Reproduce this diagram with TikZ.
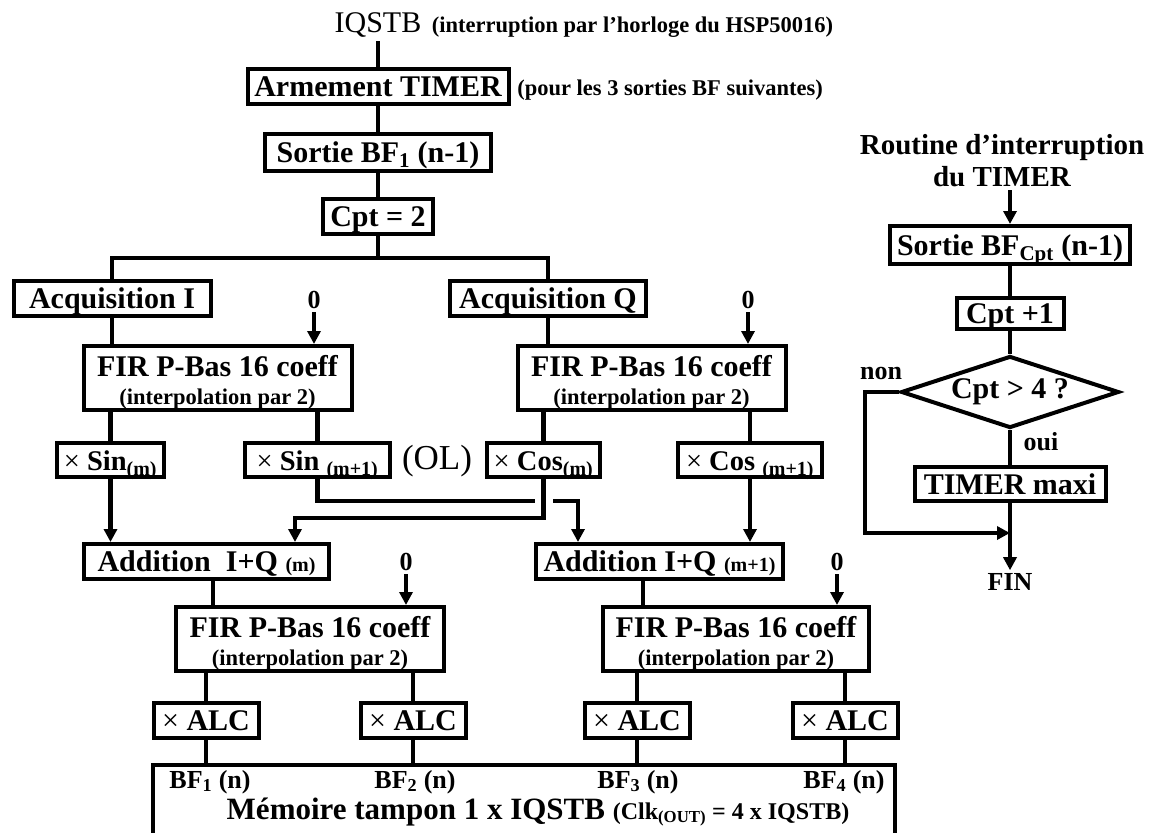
\documentclass[tikz,border=0pt]{standalone}
\usepackage{fontspec}
\setmainfont{Liberation Serif}
\usetikzlibrary{arrows.meta,shapes.geometric}

\newcommand{\firtext}{\rule{0pt}{30pt}FIR P-Bas 16 coeff\\[-4pt]{\fontsize{22.5}{24}\selectfont\bfseries (interpolation par 2)}}
\newcommand{\mult}{{\mdseries ×}}

\begin{document}
\begin{tikzpicture}[x=1pt, y=-1pt, line width=4.5pt, >={Triangle[width=13pt,length=13pt]},
  frame/.style = {draw, line width=4pt, inner sep=0pt, font=\fontsize{30}{32}\selectfont\bfseries},
  box/.style = {frame, text height=20pt, text depth=0pt},
  fir/.style = {frame, align=center, minimum width=268, minimum height=64},
  mul/.style = {box, minimum height=34, font=\fontsize{28.5}{30}\selectfont\bfseries},
  alc/.style = {box, minimum width=105, minimum height=35},
  lbl/.style = {inner sep=1pt, font=\fontsize{26}{28}\selectfont\bfseries},
  note/.style = {inner sep=0pt, font=\fontsize{22.5}{24}\selectfont\bfseries}]

  \useasboundingbox (0,0) rectangle (1153,832);

  % main routine
  \node[anchor=base, inner sep=1pt, font=\fontsize{30}{30}\selectfont] (IQ) at (378,33) {IQSTB};
  \node[note, anchor=base west] (IQ_NOTE) at ([xshift=5]IQ.base east) {(interruption par l’horloge du HSP50016)};

  \node[box, minimum width=261, minimum height=35] (ARM) at (378,86.5) {Armement TIMER};
  \node[note, anchor=west] (ARM_NOTE) at (515,90) {(pour les 3 sorties BF suivantes)};
  \node[box, minimum width=226, minimum height=37] (OUT_1) at (378,152.5) {Sortie BF\textsubscript{1} (n-1)};
  \node[box, minimum width=110, minimum height=35] (CPT_2) at (378,216.5) {Cpt = 2};
  \coordinate (FORK) at (378,258);
  \node[box, minimum width=197, minimum height=35] (ACQ_I) at (112,298.5) {Acquisition I};
  \node[box, minimum width=196, minimum height=35] (ACQ_Q) at (548,298.5) {Acquisition Q};

  \draw (IQ) -- (ARM);
  \draw (ARM) -- (OUT_1);
  \draw (OUT_1) -- (CPT_2);
  \draw (CPT_2) -- (FORK);
  \draw (ACQ_I) |- (FORK) -| (ACQ_Q);

  % first filters
  \node[fir] (FIR_1) at (217.5,378) {\firtext};
  \node[fir] (FIR_2) at (651.5,378) {\firtext};
  \node[lbl] (ZERO_1) at (314,300) {0};
  \node[lbl] (ZERO_2) at (748,300) {0};

  \draw (ACQ_I) -- (ACQ_I |- FIR_1.north);
  \draw (ACQ_Q) -- (ACQ_Q |- FIR_2.north);
  \draw[->] (ZERO_1) -- (ZERO_1 |- FIR_1.north);
  \draw[->] (ZERO_2) -- (ZERO_2 |- FIR_2.north);

  % local oscillator
  \node[mul, minimum width=107] (SIN_0) at (110.5,460) {\mult{} Sin\textsubscript{(m)}};
  \node[mul, minimum width=145] (SIN_1) at (317.5,460) {\mult{} Sin \textsubscript{(m+1)}};
  \node[font=\fontsize{35}{35}\selectfont] (OL) at (437,461) {(OL)};
  \node[mul, minimum width=113] (COS_0) at (543.5,460) {\mult{} Cos\textsubscript{(m)}};
  \node[mul, minimum width=144] (COS_1) at (750,460) {\mult{} Cos \textsubscript{(m+1)}};

  \draw (SIN_0) -- (SIN_0 |- FIR_1.south);
  \draw (SIN_1) -- (SIN_1 |- FIR_1.south);
  \draw (COS_0) -- (COS_0 |- FIR_2.south);
  \draw (COS_1) -- (COS_1 |- FIR_2.south);

  \node[box, minimum width=245, minimum height=35] (ADD_0) at (206.5,561.5) {Addition~ I+Q {\fontsize{20}{20}\selectfont (m)}};
  \node[box, minimum width=247, minimum height=35] (ADD_1) at (659.5,561.5) {Addition I+Q {\fontsize{20}{20}\selectfont (m+1)}};

  \draw[->] (SIN_0) -- (SIN_0 |- ADD_0.north);
  \draw[->] (SIN_1.south) -- ++(0,22) -| ([xshift=-81.5]ADD_1.north);
  \draw[white, line width=18pt] ([yshift=-14]COS_0.south) -- ++(0,12);
  \draw[->] (COS_0.south) -- ++(0,39) -| ([xshift=88.5]ADD_0.north);
  \draw[->] (COS_1) -- (COS_1 |- ADD_1.north);

  % second filters
  \node[fir] (FIR_3) at (310,639) {\firtext};
  \node[fir, minimum width=266] (FIR_4) at (736,639) {\firtext};
  \node[lbl] (ZERO_3) at (406,562) {0};
  \node[lbl] (ZERO_4) at (837,562) {0};

  \draw ([xshift=6.5]ADD_0.south) -- ([xshift=6.5]ADD_0.south |- FIR_3.north);
  \draw ([xshift=-16.5]ADD_1.south) -- ([xshift=-16.5]ADD_1.south |- FIR_4.north);
  \draw[->] (ZERO_3) -- (ZERO_3 |- FIR_3.north);
  \draw[->] (ZERO_4) -- (ZERO_4 |- FIR_4.north);

  \foreach \i/\x in {1/206, 2/413, 3/637, 4/845}
    \node[alc] (ALC_\i) at (\x,720.5) {\mult{} ALC};

  \foreach \i/\f in {1/3, 2/3, 3/4, 4/4}
    \draw (ALC_\i) -- (ALC_\i |- FIR_\f.south);

  % buffer
  \node[frame, minimum width=742, minimum height=86] (MEM) at (524,808) {};

  \foreach \i in {1, ..., 4}
    \draw (ALC_\i) -- (ALC_\i |- MEM.north);

  \foreach \i/\x in {1/210, 2/415, 3/638, 4/844}
    \node[lbl] (BF_\i) at (\x,782) {BF\textsubscript{\i} (n)};

  \node[lbl, font=\fontsize{31}{32}\selectfont\bfseries] (MEM_TXT) at (538,812) {Mémoire tampon 1 x IQSTB {\fontsize{24}{24}\selectfont (Clk\textsubscript{(OUT)} = 4 x IQSTB)}};

  % timer routine
  \node[lbl, align=center, font=\fontsize{29}{32}\selectfont\bfseries] (ROUTINE) at (1002,161) {Routine d’interruption\\du TIMER};
  \node[box, minimum width=240, minimum height=38] (OUT_C) at (1010,245) {Sortie BF\textsubscript{Cpt} (n-1)};
  \node[box, minimum width=107, minimum height=31] (CPT_INC) at (1010,313.5) {Cpt +1};
  \node[frame, diamond, aspect=3, minimum width=218, minimum height=72] (TEST) at (1010,392) {Cpt > 4 ?};
  \node[box, minimum width=191, minimum height=34] (TIMER_MAX) at (1010,484) {TIMER maxi};
  \node[lbl] (FIN) at (1010,582) {FIN};
  \node[lbl] (NON) at (881,373) {non};
  \node[lbl] (OUI) at (1041,442) {oui};
  \coordinate (JOIN) at (1010,533);

  \draw[->] (OUT_C |- ROUTINE.south) -- (OUT_C);
  \draw (OUT_C) -- (CPT_INC);
  \draw (CPT_INC) -- (TEST);
  \draw (TEST) -- (TIMER_MAX);
  \draw[->] (TIMER_MAX) -- (FIN);
  \draw[->] (TEST.west) -- ++(-34,0) |- (JOIN);

\end{tikzpicture}
\end{document}
